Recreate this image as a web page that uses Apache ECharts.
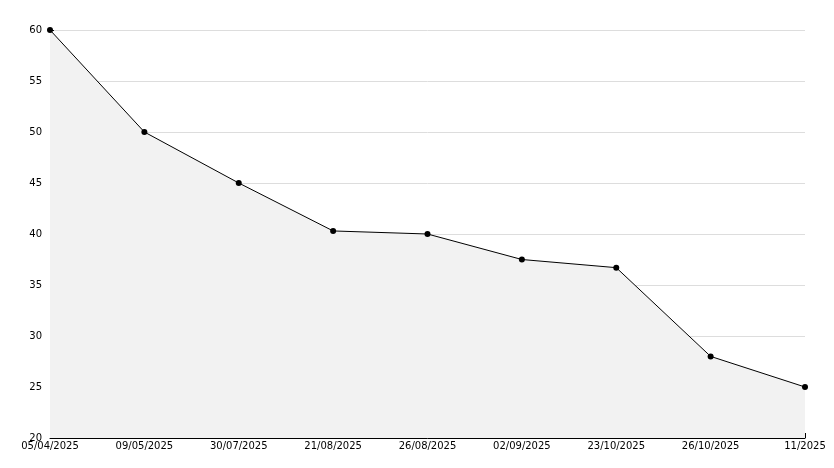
<!DOCTYPE html>
<html>
<head>
<meta charset="utf-8">
<script src="https://cdn.jsdelivr.net/npm/echarts@6/dist/echarts.min.js"></script>
<style>html,body{margin:0;padding:0;background:#fff}#chart{width:834px;height:468px}</style>
</head>
<body>
<div id="chart"></div>
<script>
var dates = ['05/04/2025', '09/05/2025', '30/07/2025', '21/08/2025', '26/08/2025', '02/09/2025', '23/10/2025', '26/10/2025', '11/2025'];
var values = [60, 50, 45, 40.3, 40, 37.5, 36.7, 28, 25];

var chart = echarts.init(document.getElementById('chart'));
chart.setOption({
	animation: false,
	grid: { left: 50, right: 29, top: 30, bottom: 30 },
	xAxis: {
		type: 'category',
		data: dates,
		boundaryGap: false,
		axisLine: { lineStyle: { color: '#000', width: 1 } },
		axisTick: { show: true, inside: true, length: 5, lineStyle: { color: '#000' } },
		axisLabel: { color: '#000', fontSize: 10, fontFamily: 'DejaVu Sans', margin: 3, interval: 0 },
		splitLine: { show: false }
	},
	yAxis: {
		type: 'value',
		min: 20,
		max: 60,
		interval: 5,
		axisLine: { show: true, lineStyle: { color: '#000', width: 1 } },
		axisTick: { show: true, inside: true, length: 4, lineStyle: { color: '#000' } },
		minorTick: { show: true, splitNumber: 5, length: 3, lineStyle: { color: '#000' } },
		axisLabel: { color: '#000', fontSize: 10, fontFamily: 'DejaVu Sans', margin: 8 },
		splitLine: { lineStyle: { color: '#dddddd' } }
	},
	series: [{
		type: 'line',
		data: values,
		symbol: 'circle',
		symbolSize: 6,
		itemStyle: { color: '#000' },
		lineStyle: { color: '#000', width: 1 },
		areaStyle: { color: '#f2f2f2', opacity: 1 }
	}]
});
</script>
</body>
</html>
